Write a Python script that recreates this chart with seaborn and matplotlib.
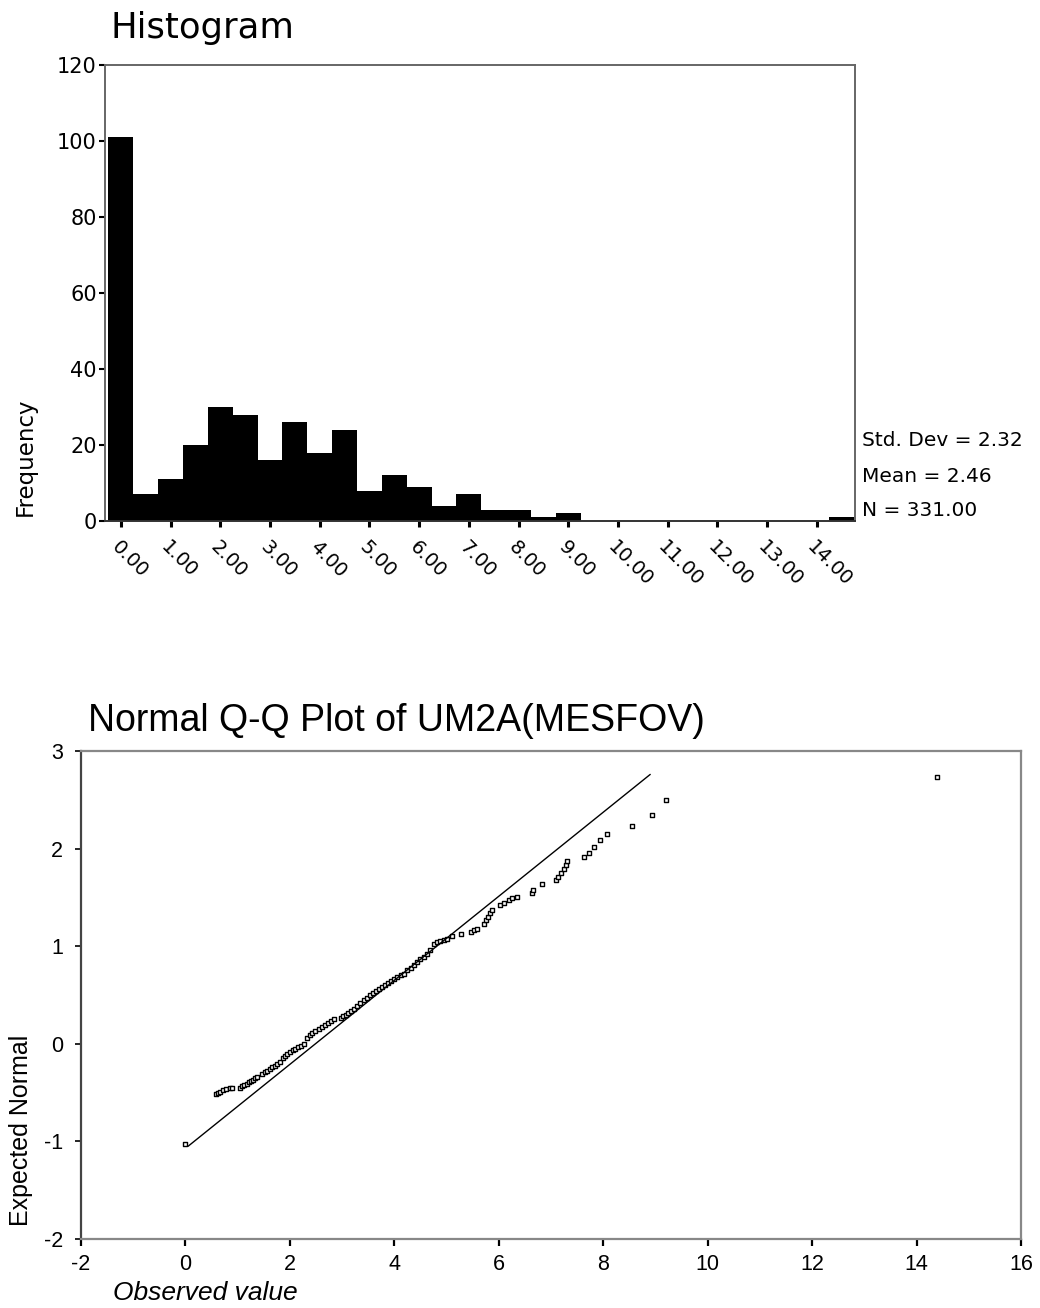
import pandas as pd
import matplotlib
matplotlib.use("Agg")
import matplotlib.pyplot as plt
import seaborn as sns

# histogram: bin centres (width 0.5) and counts
bin_centers = [0.0, 0.5, 1.0, 1.5, 2.0, 2.5, 3.0, 3.5, 4.0, 4.5, 5.0, 5.5,
               6.0, 6.5, 7.0, 7.5, 8.0, 8.5, 9.0, 14.5]
bin_counts = [101, 7, 11, 20, 30, 28, 16, 26, 18, 24, 8, 12,
              9, 4, 7, 3, 3, 1, 2, 1]
hist_ticks = list(range(15))
hist_tick_labels = ['0.00', '1.00', '2.00', '3.00', '4.00', '5.00', '6.00', '7.00',
                    '8.00', '9.00', '10.00', '11.00', '12.00', '13.00', '14.00']
stats_lines = ['Std. Dev = 2.32', 'Mean = 2.46', 'N = 331.00']

qq_observed = [0.00,
               0.58, 0.62, 0.67, 0.72, 0.78, 0.85, 0.89,
               1.05, 1.09, 1.13, 1.17, 1.21, 1.25, 1.29, 1.33, 1.37,
               1.47, 1.52, 1.56, 1.61, 1.66, 1.71, 1.76, 1.82,
               1.86, 1.90, 1.95, 2.00, 2.05, 2.10, 2.16, 2.22, 2.27,
               2.33, 2.38, 2.43, 2.49, 2.55, 2.61, 2.67, 2.73, 2.79, 2.84,
               2.97, 3.02, 3.07, 3.12, 3.17, 3.22,
               3.29, 3.35, 3.41, 3.47, 3.53, 3.59, 3.65, 3.71, 3.76,
               3.82, 3.88, 3.94, 4.00, 4.06, 4.12, 4.18,
               4.25, 4.31, 4.37, 4.44, 4.50, 4.56, 4.62, 4.69,
               4.76, 4.82, 4.88, 4.95, 5.01,
               5.11, 5.27, 5.46, 5.52, 5.59,
               5.72, 5.76, 5.80, 5.84, 5.87,
               6.03, 6.10, 6.19, 6.26, 6.35,
               6.64, 6.66, 6.83,
               7.09, 7.14, 7.19, 7.24, 7.28, 7.31,
               7.63, 7.72, 7.82, 7.94, 8.07,
               8.56, 8.94, 9.21, 14.39]
qq_expected = [-1.03,
               -0.51, -0.50, -0.49, -0.47, -0.46, -0.45, -0.45,
               -0.45, -0.43, -0.42, -0.41, -0.39, -0.38, -0.37, -0.35, -0.34,
               -0.31, -0.29, -0.28, -0.26, -0.24, -0.23, -0.21, -0.19,
               -0.15, -0.12, -0.10, -0.08, -0.06, -0.05, -0.03, -0.02, 0.00,
               0.06, 0.09, 0.11, 0.13, 0.15, 0.17, 0.19, 0.21, 0.23, 0.25,
               0.26, 0.28, 0.30, 0.32, 0.34, 0.36,
               0.39, 0.42, 0.45, 0.47, 0.50, 0.52, 0.54, 0.56, 0.58,
               0.60, 0.62, 0.64, 0.66, 0.68, 0.70, 0.72,
               0.76, 0.78, 0.81, 0.84, 0.87, 0.89, 0.92, 0.96,
               1.02, 1.04, 1.05, 1.06, 1.07,
               1.10, 1.13, 1.15, 1.17, 1.18,
               1.23, 1.27, 1.30, 1.34, 1.37,
               1.42, 1.44, 1.47, 1.49, 1.50,
               1.54, 1.58, 1.64,
               1.68, 1.71, 1.75, 1.79, 1.83, 1.87,
               1.91, 1.96, 2.02, 2.09, 2.15,
               2.23, 2.34, 2.50, 2.73]
line_x = [0.05, 8.90]
line_y = [-1.05, 2.76]

sns.set_style("ticks")
plt.rcParams['font.family'] = ['DejaVu Sans']
plt.rcParams['text.color'] = 'black'
plt.rcParams['xtick.color'] = 'black'
plt.rcParams['ytick.color'] = 'black'
plt.rcParams['axes.labelcolor'] = 'black'
plt.rcParams['axes.unicode_minus'] = False

W, H = 1040, 1308
fig = plt.figure(figsize=(W / 100, H / 100), dpi=100)

# ---- histogram ----
hist_df = pd.DataFrame({'value': bin_centers, 'count': bin_counts})
ax1 = fig.add_axes([105 / W, 1 - 521 / H, 750 / W, 456 / H])
sns.histplot(data=hist_df, x='value', weights='count', binwidth=0.5,
             binrange=(-0.25, 14.75), color='black', edgecolor='black',
             linewidth=0, alpha=1, ax=ax1)
ax1.set_xlim(-0.32, 14.77)
ax1.set_ylim(0, 120)
ax1.set_yticks([0, 20, 40, 60, 80, 100, 120])
ax1.set_xticks(hist_ticks)
ax1.set_xticklabels(hist_tick_labels, rotation=-45, ha='left', va='top',
                    rotation_mode='anchor')
ax1.tick_params(axis='x', length=4, width=2.2, pad=8, labelsize=14, color='black')
ax1.tick_params(axis='y', length=4, width=1.5, pad=2, labelsize=15, color='black')
ax1.set_xlabel('')
ax1.set_ylabel('')
for s in ax1.spines.values():
    s.set_visible(True)
    s.set_color('#666666')
    s.set_linewidth(1.4)
ax1.spines['bottom'].set_color('#333333')

fig.text(110 / W, 1 - 38 / H, 'Histogram', fontsize=25.5, ha='left', va='baseline')
fig.text(25 / W, 1 - 457 / H, 'Frequency', fontsize=16.5, rotation=90,
         ha='center', va='center')
for i, line in enumerate(stats_lines):
    fig.text(862 / W, 1 - (441 + 35 * i) / H, line, fontsize=14.5,
             ha='left', va='center')

# ---- normal Q-Q plot ----
qq_font = ['Liberation Sans', 'DejaVu Sans']
qq_df = pd.DataFrame({'observed': qq_observed, 'expected': qq_expected})
line_df = pd.DataFrame({'x': line_x, 'y': line_y})
ax2 = fig.add_axes([81 / W, 1 - 1239 / H, 940 / W, 488 / H])
sns.lineplot(data=line_df, x='x', y='y', color='black', linewidth=1.0, ax=ax2)
sns.scatterplot(data=qq_df, x='observed', y='expected', marker='s', s=12,
                facecolor='white', edgecolor='black', linewidth=1.0, ax=ax2)
ax2.set_xlim(-2, 16)
ax2.set_ylim(-2, 3)
ax2.set_xticks(range(-2, 17, 2))
ax2.set_yticks(range(-2, 4))
ax2.set_xlabel('')
ax2.set_ylabel('')
ax2.tick_params(axis='x', length=5, width=1.6, pad=6, labelsize=15.5, color='black')
ax2.tick_params(axis='y', length=4, width=1.2, pad=9, labelsize=15.5, color='black')
for lab in ax2.get_xticklabels() + ax2.get_yticklabels():
    lab.set_family(qq_font)
for s in ax2.spines.values():
    s.set_visible(True)
    s.set_color('#888888')
    s.set_linewidth(1.6)
ax2.spines['left'].set_color('#444444')

fig.text(88 / W, 1 - 731 / H, 'Normal Q-Q Plot of UM2A(MESFOV)', fontsize=27,
         family=qq_font, ha='left', va='baseline')
fig.text(21 / W, 1 - 1130 / H, 'Expected Normal', fontsize=18, rotation=90,
         family=qq_font, ha='center', va='center')
fig.text(113 / W, 1 - 1293 / H, 'Observed value', fontsize=19, style='italic',
         family=qq_font, ha='left', va='center')

fig.savefig('out.png', dpi=100)
